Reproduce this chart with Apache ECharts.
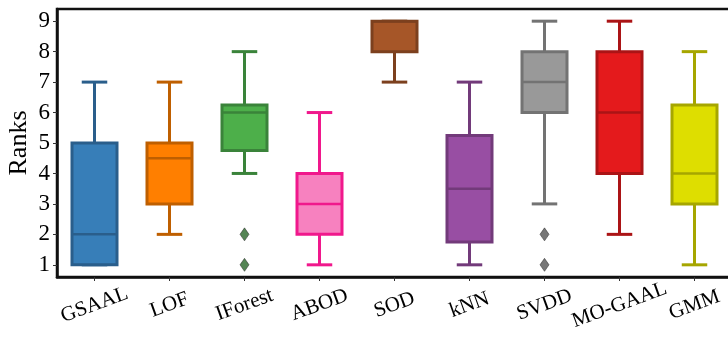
<!DOCTYPE html>
<html>
<head>
<meta charset="utf-8">
<script src="https://cdn.jsdelivr.net/npm/echarts@6/dist/echarts.min.js"></script>
<style>
  html, body { margin: 0; padding: 0; background: #fff; }
  #chart { width: 728px; height: 339px; }
</style>
</head>
<body>
<div id="chart"></div>
<script>
// Methods on the x axis
const methods = ['GSAAL', 'LOF', 'IForest', 'ABOD', 'SOD', 'kNN', 'SVDD', 'MO-GAAL', 'GMM'];
// Box statistics per method: lower whisker, Q1, median, Q3, upper whisker
const whiskerLow = [1, 2, 4, 1, 7, 1, 3, 2, 1];
const q1         = [1, 3, 4.75, 2, 8, 1.75, 6, 4, 3];
const median     = [2, 4.5, 6, 3, 9, 3.5, 7, 6, 4];
const q3         = [5, 5, 6.25, 4, 9, 5.25, 8, 8, 6.25];
const whiskerHigh= [7, 7, 8, 6, 9, 7, 9, 9, 8];
// Outliers as [method index, rank]
const outliers = [[2, 1], [2, 2], [6, 1], [6, 2]];
// Y ticks
const rankTicks = [1, 2, 3, 4, 5, 6, 7, 8, 9];

const fillColors = ['#377eb8', '#ff7f00', '#4daf4a', '#f781bf', '#a65628', '#984ea3', '#999999', '#e41a1c', '#dede00'];
const edgeColors = ['#2a5e8b', '#bf5f00', '#3a833a', '#f0188c', '#7c401e', '#723a7a', '#737373', '#ab1416', '#a6a600'];

const boxData = methods.map((m, i) => [i, whiskerLow[i], q1[i], median[i], q3[i], whiskerHigh[i]]);

function renderBox(params, api) {
  const i = api.value(0);
  const band = api.size([1, 0])[0];
  const half = band * 0.3;
  const cap = band * 0.17;
  const x = api.coord([i, 0])[0];
  const yLo = api.coord([i, api.value(1)])[1];
  const yQ1 = api.coord([i, api.value(2)])[1];
  const yMed = api.coord([i, api.value(3)])[1];
  const yQ3 = api.coord([i, api.value(4)])[1];
  const yHi = api.coord([i, api.value(5)])[1];
  const edge = edgeColors[i];
  const lw = 3;
  const line = (x1, y1, x2, y2, w) => ({
    type: 'line',
    shape: { x1, y1, x2, y2 },
    style: { stroke: edge, lineWidth: w || lw }
  });
  const children = [];
  if (yLo !== yQ1) {
    children.push(line(x, yQ1, x, yLo));
  }
  children.push(line(x - cap, yLo, x + cap, yLo));
  if (yHi !== yQ3) {
    children.push(line(x, yQ3, x, yHi));
  }
  children.push(line(x - cap, yHi, x + cap, yHi));
  children.push({
    type: 'rect',
    shape: { x: x - half, y: yQ3, width: half * 2, height: yQ1 - yQ3 },
    style: { fill: fillColors[i], stroke: edge, lineWidth: lw }
  });
  children.push(line(x - half, yMed, x + half, yMed, 2.5));
  return { type: 'group', children };
}

const chart = echarts.init(document.getElementById('chart'), null, { renderer: 'canvas' });
const serif = '"Liberation Serif", "DejaVu Serif", serif';

chart.setOption({
  animation: false,
  grid: {
    left: 57, top: 9, width: 675, height: 268,
    outerBoundsMode: 'none',
    containLabel: false,
    show: true, borderColor: '#111', borderWidth: 2.5, backgroundColor: 'transparent'
  },
  // y-axis title, placed beside the tick labels
  graphic: [{
    type: 'text',
    x: 19, y: 143,
    rotation: Math.PI / 2,
    style: {
      text: 'Ranks', fill: '#000',
      font: '26px "Liberation Serif", "DejaVu Serif", serif',
      textAlign: 'center', textVerticalAlign: 'middle'
    }
  }],
  xAxis: {
    type: 'category',
    data: methods,
    boundaryGap: true,
    axisLine: { show: true, lineStyle: { color: '#111', width: 2.5 } },
    axisTick: { show: true, alignWithLabel: true, length: 4, lineStyle: { color: '#333', width: 1 } },
    axisLabel: {
      interval: 0, hideOverlap: false,
      rotate: 20, align: 'center', verticalAlign: 'middle', margin: 28,
      fontFamily: serif, fontSize: 21, color: '#000'
    },
    splitLine: { show: false }
  },
  yAxis: {
    type: 'value',
    min: 0.6, max: 9.4,
    axisLine: { show: true, lineStyle: { color: '#111', width: 2.5 } },
    axisTick: { show: true, customValues: rankTicks, length: 4, lineStyle: { color: '#333', width: 1 } },
    axisLabel: { customValues: rankTicks, fontFamily: serif, fontSize: 23, color: '#000', margin: 7 },
    splitLine: { show: false }
  },
  series: [
    {
      type: 'custom',
      renderItem: renderBox,
      data: boxData,
      encode: { x: 0, y: [1, 2, 3, 4, 5] },
      z: 2
    },
    {
      type: 'scatter',
      data: outliers,
      symbol: 'diamond',
      symbolSize: [9, 13],
      itemStyle: {
        color: (p) => p.data[0] === 2 ? '#2b662b' : '#555555',
        borderColor: '#222',
        borderWidth: 0.6
      },
      z: 3
    }
  ]
});
</script>
</body>
</html>
